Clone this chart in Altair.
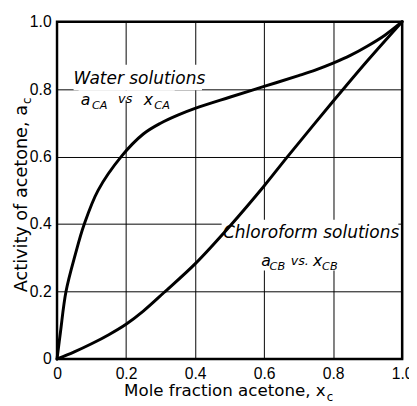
import altair as alt
import pandas as pd

# Activity curves
x_water = [0, 0.01, 0.026, 0.053, 0.079, 0.119, 0.186, 0.25, 0.3, 0.35, 0.4, 0.5, 0.6, 0.7, 0.75, 0.8, 0.85, 0.9, 0.95, 1.0]
a_water = [0, 0.08, 0.2, 0.31, 0.4, 0.5, 0.6, 0.667, 0.699, 0.723, 0.743, 0.776, 0.808, 0.84, 0.857, 0.877, 0.9, 0.928, 0.96, 1.0]

x_chloro = [0, 0.05, 0.1, 0.15, 0.2, 0.25, 0.31, 0.4, 0.5, 0.6, 0.668, 0.8, 0.9, 1.0]
a_chloro = [0, 0.021, 0.045, 0.072, 0.103, 0.142, 0.197, 0.282, 0.393, 0.513, 0.6, 0.764, 0.885, 1.0]

tick_values = [0, 0.2, 0.4, 0.6, 0.8, 1.0]

# Annotation texts (data coordinates: left x, baseline y)
big_text = ["Water solutions", "Chloroform solutions"]
big_x = [0.048, 0.481]
big_y = [0.814, 0.360]

letter_text = ["a", "x", "a", "x"]
letter_x = [0.069, 0.251, 0.592, 0.742]
letter_y = [0.753, 0.753, 0.276, 0.276]

vs_text = ["vs", "vs."]
vs_x = [0.177, 0.677]
vs_y = [0.759, 0.279]

sub_text = ["CA", "CA", "CB", "CB"]
sub_x = [0.101, 0.282, 0.616, 0.768]
sub_y = [0.741, 0.741, 0.265, 0.265]

# white label backgrounds that break the grid lines
mask_x = [0.048, 0.0625, 0.477]
mask_x2 = [0.42, 0.341, 0.989]
mask_y = [0.872, 0.797, 0.413]
mask_y2 = [0.797, 0.767, 0.262]

curves = pd.DataFrame({
    "x": x_water + x_chloro,
    "a": a_water + a_chloro,
    "series": ["water"] * len(x_water) + ["chloroform"] * len(x_chloro),
})

x_scale = alt.Scale(domain=[0, 1], nice=False, zero=False)
y_scale = alt.Scale(domain=[0, 1], nice=False, zero=False)
label_expr = "datum.value == 0 ? '0' : format(datum.value, '.1f')"

common_axis = dict(
    values=tick_values, labelExpr=label_expr, title=None, grid=True,
    gridColor="black", gridWidth=1, gridOpacity=1, domain=False,
    ticks=False, tickSize=0, labelFont="Liberation Sans", labelFontSize=16,
    labelColor="black", labelFlush=False, labelOverlap=False,
)
x_axis = alt.Axis(labelPadding=20, labelBaseline="alphabetic", **common_axis)
y_axis = alt.Axis(labelPadding=6, labelBaseline="middle", **common_axis)


def X(field):
    return alt.X(field, type="quantitative", scale=x_scale, axis=x_axis)


def Y(field):
    return alt.Y(field, type="quantitative", scale=y_scale, axis=y_axis)


masks = alt.Chart(pd.DataFrame({"x": mask_x, "x2": mask_x2, "y": mask_y, "y2": mask_y2})).mark_rect(
    color="white"
).encode(x=X("x"), x2="x2", y=Y("y"), y2="y2")

lines = alt.Chart(curves).mark_line(
    color="black", strokeWidth=3, interpolate="catmull-rom", strokeCap="round"
).encode(x=X("x"), y=Y("a"), detail="series:N")


def text_layer(texts, xs, ys, size):
    df = pd.DataFrame({"t": texts, "x": xs, "y": ys})
    return alt.Chart(df).mark_text(
        align="left", baseline="alphabetic", font="DejaVu Sans",
        fontStyle="italic", fontSize=size, color="black"
    ).encode(x=X("x"), y=Y("y"), text="t:N")


big = text_layer(big_text, big_x, big_y, 17.3)
letters = text_layer(letter_text, letter_x, letter_y, 16)
vs = text_layer(vs_text, vs_x, vs_y, 13)
subs = text_layer(sub_text, sub_x, sub_y, 11.5)

# axis titles with subscripts
y_title = alt.Chart(pd.DataFrame({"t": ["Activity of acetone, a"]})).mark_text(
    align="right", baseline="alphabetic", angle=270, font="DejaVu Sans", fontSize=18, color="black"
).encode(x=alt.value(-31), y=alt.value(85), text="t:N")
y_title_sub = alt.Chart(pd.DataFrame({"t": ["c"]})).mark_text(
    align="left", baseline="alphabetic", angle=270, font="DejaVu Sans", fontSize=12, color="black"
).encode(x=alt.value(-27), y=alt.value(84), text="t:N")

x_title = alt.Chart(pd.DataFrame({"t": ["Mole fraction acetone, x"]})).mark_text(
    align="right", baseline="alphabetic", font="DejaVu Sans", fontSize=17, color="black"
).encode(x=alt.value(274), y=alt.value(382), text="t:N")
x_title_sub = alt.Chart(pd.DataFrame({"t": ["c"]})).mark_text(
    align="left", baseline="alphabetic", font="DejaVu Sans", fontSize=12, color="black"
).encode(x=alt.value(275), y=alt.value(387), text="t:N")

chart = alt.layer(
    masks, lines, big, letters, vs, subs, y_title, y_title_sub, x_title, x_title_sub
).properties(
    width=352, height=344,
    autosize=alt.AutoSizeParams(type="none"),
    padding={"left": 50, "top": 10, "right": 7, "bottom": 44},
    background="white",
).configure_view(stroke="black", strokeWidth=2.5)

chart.save("out.html", embed_options={"renderer": "svg", "actions": False})
